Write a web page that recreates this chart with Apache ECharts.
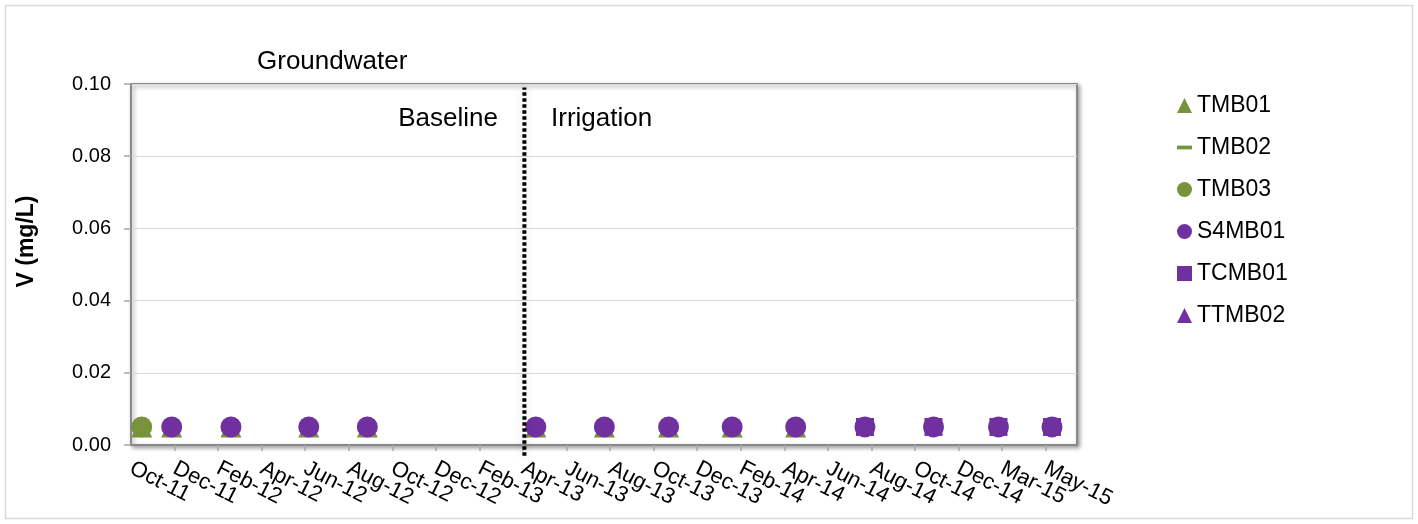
<!DOCTYPE html>
<html>
<head>
<meta charset="utf-8">
<script src="https://cdn.jsdelivr.net/npm/echarts@6/dist/echarts.min.js"></script>
<style>
  html, body { margin: 0; padding: 0; background: #fff; }
  #chart { width: 1418px; height: 524px; }
</style>
</head>
<body>
<div id="chart"></div>
<script>
// Groundwater vanadium (V, mg/L) by sampling date and well.
// The x axis counts days from axisStart, with a labelled tick every 61 days.
const axisStart = '2011-10-28';
const tickDays = 61;
const axisEndDays = 1325;
const phaseChangeDate = '2013-05-01';   // end of baseline, start of irrigation
const phaseLineBottom = -0.003;
const phaseLineTop = 0.099;

const tmb01Dates  = ['2011-11-12', '2011-12-24', '2012-03-16', '2012-07-03', '2012-09-23',
                     '2013-05-17', '2013-08-21', '2013-11-19', '2014-02-16', '2014-05-16'];
const tmb01Values = [0.005, 0.005, 0.005, 0.005, 0.005, 0.005, 0.005, 0.005, 0.005, 0.005];

const tmb02Dates  = [];
const tmb02Values = [];

const tmb03Dates  = ['2011-11-12'];
const tmb03Values = [0.005];

const s4mb01Dates  = ['2011-12-24', '2012-03-16', '2012-07-03', '2012-09-23', '2013-05-17',
                      '2013-08-21', '2013-11-19', '2014-02-16', '2014-05-16', '2014-08-21',
                      '2014-11-25', '2015-02-24', '2015-05-10'];
const s4mb01Values = [0.005, 0.005, 0.005, 0.005, 0.005, 0.005, 0.005, 0.005, 0.005, 0.005,
                      0.005, 0.005, 0.005];

const tcmb01Dates  = ['2014-08-21', '2014-11-25', '2015-02-24', '2015-05-10'];
const tcmb01Values = [0.005, 0.005, 0.005, 0.005];

const ttmb02Dates  = [];
const ttmb02Values = [];

const monthNames = ['Jan', 'Feb', 'Mar', 'Apr', 'May', 'Jun', 'Jul', 'Aug', 'Sep', 'Oct', 'Nov', 'Dec'];

const GREEN = '#77933C';
const PURPLE = '#7030A0';
const FONT = "'Liberation Sans', Arial, sans-serif";
const DAY_MS = 86400000;

function toUtc(s) {
  const p = s.split('-').map(Number);
  return Date.UTC(p[0], p[1] - 1, p[2]);
}
const startMs = toUtc(axisStart);
function dayOffset(s) {
  return Math.round((toUtc(s) - startMs) / DAY_MS);
}
function pairs(dates, values) {
  return dates.map((d, i) => [dayOffset(d), values[i]]);
}
function tickLabel(v) {
  if (v % tickDays !== 0) return '';
  const d = new Date(startMs + v * DAY_MS);
  return monthNames[d.getUTCMonth()] + '-' + String(d.getUTCFullYear()).slice(2);
}

const dashIcon = 'path://M0,0h16v4h-16z';

function scatter(name, symbol, size, color, dates, values) {
  return {
    name: name,
    type: 'scatter',
    symbol: symbol,
    symbolSize: size,
    itemStyle: { color: color, opacity: 1 },
    emphasis: { disabled: true },
    data: pairs(dates, values)
  };
}

// Shared label look for the date axis (the first label sits on a twin axis so
// the crowded, slanted labels are all kept).
const dateLabel = {
  rotate: -27,
  margin: 22,
  fontSize: 22,
  fontFamily: FONT,
  color: '#000',
  hideOverlap: false
};

const chart = echarts.init(document.getElementById('chart'), null, { renderer: 'canvas' });

const phaseX = dayOffset(phaseChangeDate);

chart.setOption({
  animation: false,
  backgroundColor: '#fff',
  textStyle: { fontFamily: FONT },
  title: {
    text: 'Groundwater',
    left: 252,
    top: 44,
    textStyle: { fontFamily: FONT, fontSize: 26, fontWeight: 'normal', color: '#000' }
  },
  legend: {
    orient: 'vertical',
    left: 1172,
    top: 89,
    itemWidth: 15,
    itemHeight: 15,
    itemGap: 19,
    selectedMode: false,
    textStyle: { fontFamily: FONT, fontSize: 23, color: '#000' },
    data: [
      { name: 'TMB01', icon: 'triangle' },
      { name: 'TMB02', icon: dashIcon },
      { name: 'TMB03', icon: 'circle' },
      { name: 'S4MB01', icon: 'circle' },
      { name: 'TCMB01', icon: 'rect' },
      { name: 'TTMB02', icon: 'triangle' }
    ]
  },
  grid: {
    left: 131,
    top: 84,
    right: 341,
    bottom: 79,
    show: true,
    backgroundColor: '#fff',
    borderColor: '#898989',
    borderWidth: 2,
    shadowBlur: 4,
    shadowColor: 'rgba(0,0,0,0.35)',
    shadowOffsetX: 2,
    shadowOffsetY: 2
  },
  xAxis: [
    {
      type: 'value',
      min: 0,
      max: axisEndDays,
      interval: tickDays,
      axisLine: { show: true, lineStyle: { color: '#898989', width: 2 } },
      axisTick: { show: true, length: 6, lineStyle: { color: '#a6a6a6', width: 1.5 } },
      splitLine: { show: false },
      axisLabel: Object.assign({}, dateLabel, {
        showMinLabel: false,
        showMaxLabel: false,
        formatter: tickLabel
      })
    },
    {
      type: 'value',
      position: 'bottom',
      min: 0,
      max: axisEndDays,
      interval: tickDays,
      axisLine: { show: false },
      axisTick: { show: false },
      splitLine: { show: false },
      axisLabel: Object.assign({}, dateLabel, {
        showMinLabel: true,
        showMaxLabel: false,
        formatter: v => (v === 0 ? tickLabel(v) : '')
      })
    }
  ],
  yAxis: {
    type: 'value',
    min: 0,
    max: 0.1,
    interval: 0.02,
    name: 'V (mg/L)',
    nameLocation: 'middle',
    nameGap: 93,
    nameTextStyle: {
      fontFamily: FONT, fontSize: 23, fontWeight: 'bold', color: '#000',
      padding: [0, 0, 0, 46]
    },
    axisLine: { show: true, lineStyle: { color: '#898989', width: 2 } },
    axisTick: { show: true, length: 7, lineStyle: { color: '#a6a6a6', width: 1.5 } },
    splitLine: { show: true, lineStyle: { color: '#d9d9d9', width: 1 } },
    axisLabel: {
      margin: 20,
      fontSize: 20,
      fontFamily: FONT,
      color: '#000',
      formatter: v => v.toFixed(2)
    }
  },
  graphic: [
    {
      type: 'rect',
      silent: true,
      z: -10,
      shape: { x: 5.5, y: 5.5, width: 1407, height: 513 },
      style: { fill: 'none', stroke: '#d9d9d9', lineWidth: 1.5 }
    },
    {
      type: 'text',
      silent: true,
      right: 1418 - 498,
      top: 106,
      style: { text: 'Baseline', fontFamily: FONT, fontSize: 26, fill: '#000' }
    },
    {
      type: 'text',
      silent: true,
      left: 551,
      top: 106,
      style: { text: 'Irrigation', fontFamily: FONT, fontSize: 26, fill: '#000' }
    }
  ],
  series: [
    scatter('TMB01', 'triangle', 21, GREEN, tmb01Dates, tmb01Values),
    scatter('TMB02', dashIcon, [20, 5], GREEN, tmb02Dates, tmb02Values),
    scatter('TMB03', 'circle', 21, GREEN, tmb03Dates, tmb03Values),
    scatter('S4MB01', 'circle', 21, PURPLE, s4mb01Dates, s4mb01Values),
    scatter('TCMB01', 'rect', 18, PURPLE, tcmb01Dates, tcmb01Values),
    scatter('TTMB02', 'triangle', 20, PURPLE, ttmb02Dates, ttmb02Values),
    {
      name: 'phase',
      type: 'line',
      silent: true,
      clip: false,
      z: 5,
      symbol: 'none',
      lineStyle: {
        color: '#000',
        width: 4,
        type: [3.5, 2.5],
        cap: 'butt',
        shadowBlur: 8,
        shadowColor: 'rgba(0,0,0,0.18)'
      },
      data: [[phaseX, phaseLineBottom], [phaseX, phaseLineTop]]
    }
  ]
});
</script>
</body>
</html>
